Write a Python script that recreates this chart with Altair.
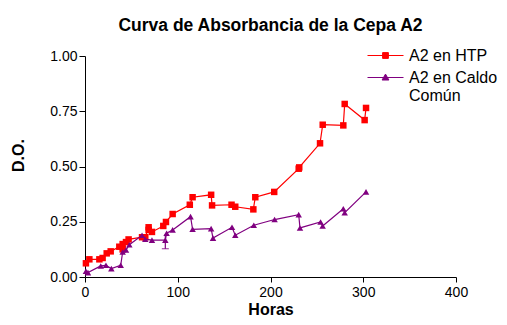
import altair as alt
import pandas as pd

# --- data ---
red_name = "A2 en HTP"
red_h = [1, 4.7, 15.5, 19, 23.4, 27.7, 37, 40.6, 40.6, 44.2, 47, 61.5, 65, 68.6, 68.6, 72.2,
         84.4, 87.3, 94.5, 113, 116, 136, 137, 158, 162, 181.5, 183.6, 204, 230.4, 231,
         253.4, 256.3, 278.5, 280, 301.5, 303]
red_v = [0.062, 0.080, 0.080, 0.086, 0.107, 0.116, 0.137, 0.125, 0.149, 0.158, 0.170, 0.180,
         0.180, 0.225, 0.213, 0.204, 0.231, 0.249, 0.285, 0.327, 0.361, 0.372, 0.324, 0.327,
         0.318, 0.306, 0.361, 0.385, 0.490, 0.496, 0.605, 0.689, 0.686, 0.783, 0.710, 0.765]

pur_name = "A2 en Caldo Común"
pur_h = [1, 3.2, 17, 22.6, 28.4, 38.5, 40.6, 44.2, 47.8, 61.5, 65, 72.2, 86.6, 88, 94.5,
         113.8, 116, 136, 138, 158.5, 162, 182, 204.4, 230.4, 231.8, 254, 256.2, 278.5, 280, 303]
pur_v = [0.026, 0.020, 0.050, 0.053, 0.038, 0.053, 0.113, 0.122, 0.146, 0.189, 0.171, 0.167,
         0.167, 0.198, 0.213, 0.273, 0.216, 0.219, 0.176, 0.225, 0.189, 0.234, 0.260, 0.282,
         0.222, 0.249, 0.231, 0.309, 0.291, 0.385]

err_h = [86.6]
err_lo = [0.128]
err_hi = [0.195]

x_ticks = [0, 100, 200, 300, 400]
y_ticks = [0.0, 0.25, 0.5, 0.75, 1.0]

RED = "#FF0000"
PUR = "#800080"
FONT = "Liberation Sans"

red_df = pd.DataFrame({"h": red_h, "v": red_v, "series": red_name, "i": range(len(red_h))})
pur_df = pd.DataFrame({"h": pur_h, "v": pur_v, "series": pur_name, "i": range(len(pur_h))})
err_df = pd.DataFrame({"h": err_h, "lo": err_lo, "hi": err_hi})

xs = alt.Scale(domain=[0, 400], nice=False)
ys = alt.Scale(domain=[0, 1], nice=False)

xenc = alt.X("h:Q", scale=xs, axis=alt.Axis(title="Horas", values=x_ticks, format="d",
                                             titleY=37, titleBaseline="alphabetic"))
yenc = alt.Y("v:Q", scale=ys, axis=alt.Axis(title="D.O.", values=y_ticks, format=".2f",
                                             titleX=-67, titleY=99, titleBaseline="middle",
                                             titleAngle=270))

SQ_PATH = "M-1,0L1,0M-0.16,-0.16L0.16,-0.16L0.16,0.16L-0.16,0.16Z"
TRI_PATH = "M-1,0L1,0M0,-0.19L0.19,0.14L-0.19,0.14Z"


def series_layer(df, name, color, shape, path, lx, ly, label_expr=None):
    line = alt.Chart(df).mark_line(color=color, strokeWidth=1.2).encode(
        x=xenc, y=yenc, order="i:Q")
    leg = dict(title=None, symbolType=path, symbolSize=1296, symbolStrokeWidth=1,
               symbolFillColor=color, symbolStrokeColor=color, labelFont=FONT,
               labelFontSize=16, labelColor="black", labelOffset=5,
               orient="none", legendX=lx, legendY=ly, labelLimit=300)
    if label_expr:
        leg["labelExpr"] = label_expr
    pts = alt.Chart(df).mark_point(filled=True, shape=shape, size=42, opacity=1).encode(
        x=xenc, y=yenc,
        color=alt.Color("series:N", scale=alt.Scale(domain=[name], range=[color]),
                        legend=alt.Legend(**leg)))
    return line + pts


red_layer = series_layer(red_df, red_name, RED, "square", SQ_PATH, 282, -19)
pur_layer = series_layer(pur_df, pur_name, PUR, "triangle-up", TRI_PATH, 282, 3,
                         label_expr="['A2 en Caldo', 'Común']")

err_rule = alt.Chart(err_df).mark_rule(color=PUR, strokeWidth=1.2).encode(
    x=alt.X("h:Q", scale=xs), y=alt.Y("lo:Q", scale=ys), y2="hi:Q")
err_cap = alt.Chart(err_df).mark_tick(color=PUR, thickness=1.2, size=7, orient="horizontal").encode(
    x=alt.X("h:Q", scale=xs), y=alt.Y("lo:Q", scale=ys))

chart = alt.layer(red_layer, pur_layer, err_rule, err_cap).resolve_scale(
    color="independent"
).properties(
    width=371, height=221,
    autosize=alt.AutoSizeParams(type="none"),
    padding={"left": 77, "top": 48, "right": 43, "bottom": 40},
    title=alt.TitleParams("Curva de Absorbancia de la Cepa A2", font=FONT, fontSize=17.5,
                          fontWeight="bold", color="black", anchor="middle", offset=3),
).configure_view(stroke=None).configure_axis(
    grid=False, domainColor="black", tickColor="black", domainWidth=1, tickWidth=1,
    labelFont=FONT, labelFontSize=14, labelColor="black", titleFont=FONT,
    titleFontSize=16, titleFontWeight="bold", titleColor="black", labelFlush=False,
).configure_axisX(tickSize=5, labelPadding=3).configure_axisY(tickSize=6, labelPadding=2)

chart.save("out.html", embed_options={"renderer": "svg", "actions": False})
